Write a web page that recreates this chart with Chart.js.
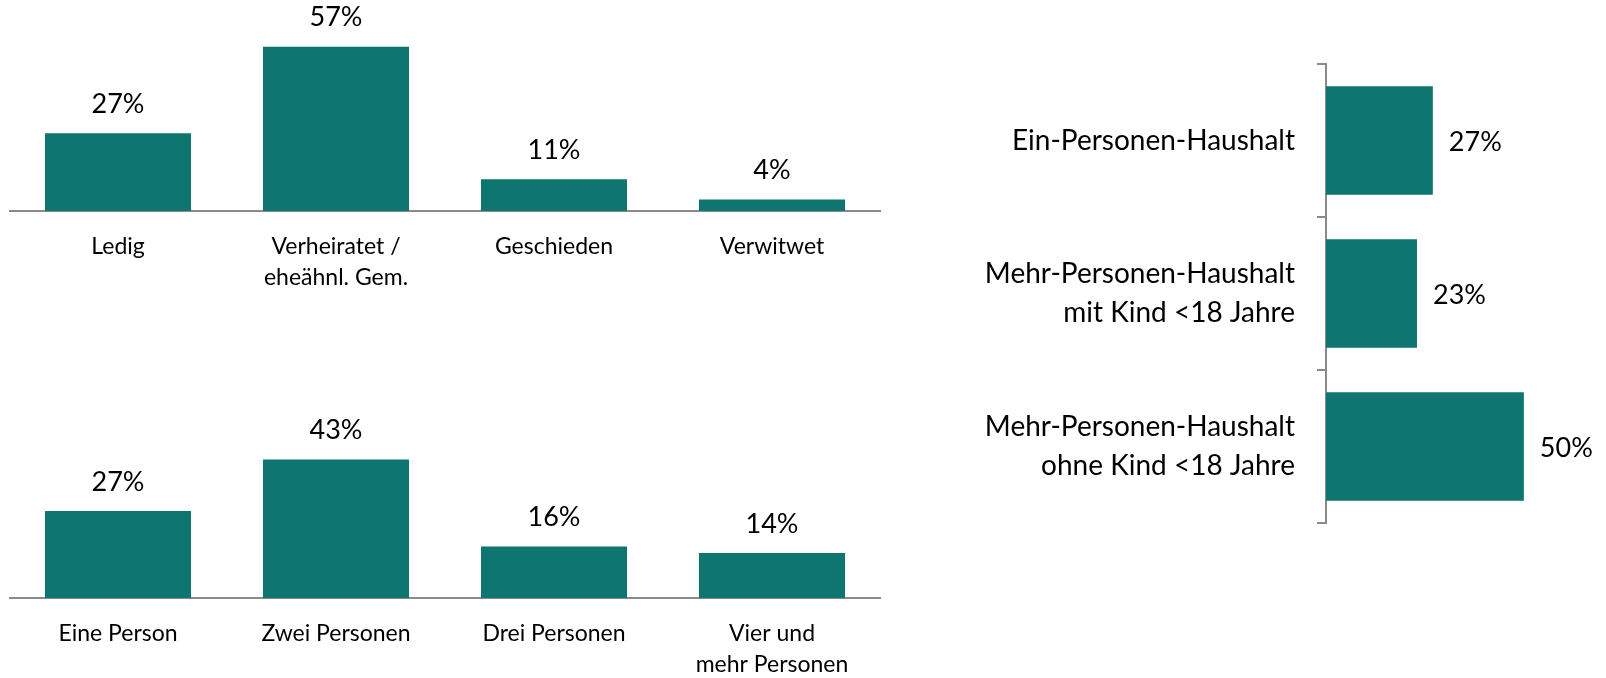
<!DOCTYPE html>
<html>
<head>
<meta charset="utf-8">
<script src="https://cdn.jsdelivr.net/npm/chart.js@4.4.1/dist/chart.umd.min.js"></script>
<style>
  html, body { margin: 0; padding: 0; background: #fff; width: 1606px; height: 678px; overflow: hidden; }
  .box { position: absolute; }
</style>
</head>
<body>
<div class="box" style="left:9px; top:0px; width:872px; height:293px;"><canvas id="c1"></canvas></div>
<div class="box" style="left:9px; top:380px; width:872px; height:300px;"><canvas id="c2"></canvas></div>
<div class="box" style="left:946px; top:50px; width:660px; height:480px;"><canvas id="c3"></canvas></div>
<script>
// ---- Data ----
const familienstandLabels = ['Ledig', ['Verheiratet /', 'eheähnl. Gem.'], 'Geschieden', 'Verwitwet'];
const familienstandValues = [27, 57, 11, 4];

const haushaltsgroesseLabels = ['Eine Person', 'Zwei Personen', 'Drei Personen', ['Vier und', 'mehr Personen']];
const haushaltsgroesseValues = [27, 43, 16, 14];

const haushaltstypLabels = ['Ein-Personen-Haushalt', ['Mehr-Personen-Haushalt', 'mit Kind <18 Jahre'], ['Mehr-Personen-Haushalt', 'ohne Kind <18 Jahre']];
const haushaltstypValues = [27, 23, 50];

// ---- Styles ----
const BAR = '#0f7570';
const AXIS = '#8a8a8a';
const FONT = 'Lato, "Open Sans", sans-serif';

const valueLabels = {
  id: 'valueLabels',
  afterDatasetsDraw(chart, args, opts) {
    const ctx = chart.ctx;
    const meta = chart.getDatasetMeta(0);
    const data = chart.data.datasets[0].data;
    ctx.save();
    ctx.fillStyle = '#000';
    ctx.font = '27px ' + FONT;
    meta.data.forEach((el, i) => {
      const txt = data[i] + '%';
      if (opts.horizontal) {
        ctx.textAlign = 'left';
        ctx.textBaseline = 'middle';
        ctx.fillText(txt, el.x + 16, el.y + 2);
      } else {
        ctx.textAlign = 'center';
        ctx.textBaseline = 'middle';
        ctx.fillText(txt, el.x, el.y - 29);
      }
    });
    ctx.restore();
  }
};

function columnChart(id, labels, values, yMax, padTop) {
  return new Chart(document.getElementById(id), {
    type: 'bar',
    data: { labels: labels, datasets: [{ data: values, backgroundColor: BAR, borderWidth: 0, categoryPercentage: 1, barPercentage: 0.67 }] },
    options: {
      responsive: true, maintainAspectRatio: false, animation: false,
      layout: { padding: { top: padTop, left: 0, right: 0, bottom: 0 } },
      plugins: { legend: { display: false }, tooltip: { enabled: false }, valueLabels: { horizontal: false } },
      scales: {
        x: {
          grid: { display: false, drawTicks: false },
          border: { display: true, color: AXIS, width: 2 },
          ticks: { color: '#000', padding: 20, font: { family: FONT, size: 23, lineHeight: 1.35 }, maxRotation: 0, autoSkip: false },
          afterFit: (scale) => { scale.height = 82; scale.paddingLeft = 0; scale.paddingRight = 0; }
        },
        y: { display: false, min: 0, max: yMax }
      }
    },
    plugins: [valueLabels]
  });
}

Chart.defaults.font.family = FONT;

columnChart('c1', familienstandLabels, familienstandValues, 60, 38);
columnChart('c2', haushaltsgroesseLabels, haushaltsgroesseValues, 50, 57);

new Chart(document.getElementById('c3'), {
  type: 'bar',
  data: { labels: haushaltstypLabels, datasets: [{ data: haushaltstypValues, backgroundColor: BAR, borderWidth: 0, categoryPercentage: 1, barPercentage: 0.71 }] },
  options: {
    indexAxis: 'y',
    responsive: true, maintainAspectRatio: false, animation: false,
    layout: { padding: { top: 14, left: 0, right: 3, bottom: 7 } },
    plugins: { legend: { display: false }, tooltip: { enabled: false }, valueLabels: { horizontal: true } },
    scales: {
      x: { display: false, min: 0, max: 70 },
      y: {
        grid: { display: true, drawOnChartArea: false, drawTicks: true, tickLength: 9, color: AXIS, lineWidth: 2 },
        border: { display: true, color: AXIS, width: 2 },
        ticks: { color: '#000', padding: 22, font: { family: FONT, size: 28, lineHeight: 1.36 }, autoSkip: false },
        afterFit: (scale) => { scale.width = 380; scale.paddingTop = 0; scale.paddingBottom = 0; }
      }
    }
  },
  plugins: [valueLabels]
});
</script>
</body>
</html>
